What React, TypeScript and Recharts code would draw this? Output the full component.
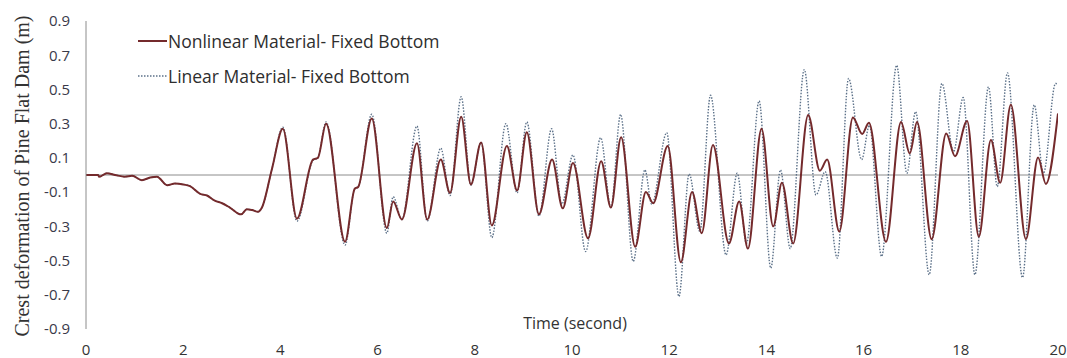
import React from "react";
import { LineChart, Line, XAxis, YAxis, ReferenceLine } from "recharts";

// time (s) and crest deformation (m), nonlinear material
const nlTime = [
  0, 0.25, 0.27, 0.43, 0.6, 0.8, 0.95, 1.15, 1.32, 1.46, 1.67, 1.83, 2.0, 2.14,
  2.35, 2.49, 2.65, 2.8, 2.96, 3.19, 3.31, 3.42, 3.54, 3.62, 3.83, 4.05, 4.34,
  4.67, 4.77, 4.94, 5.33, 5.53, 5.6, 5.88, 6.19, 6.32, 6.5, 6.81, 7.02, 7.3,
  7.49, 7.72, 7.92, 8.13, 8.35, 8.66, 8.87, 9.07, 9.32, 9.59, 9.81, 10.02,
  10.33, 10.6, 10.8, 11.01, 11.3, 11.52, 11.67, 11.97, 12.24, 12.47, 12.67,
  12.9, 13.23, 13.44, 13.62, 13.9, 14.14, 14.32, 14.55, 14.86, 15.1, 15.25,
  15.5, 15.78, 15.97, 16.11, 16.46, 16.77, 16.95, 17.1, 17.4, 17.7, 17.88,
  18.13, 18.37, 18.62, 18.81, 19.03, 19.34, 19.59, 19.75, 20.0,
];
const nlValue = [
  0, 0, -0.01, 0.01, 0.0, -0.01, -0.005, -0.03, -0.015, -0.01, -0.06, -0.05,
  -0.055, -0.065, -0.11, -0.12, -0.15, -0.165, -0.19, -0.23, -0.2, -0.205,
  -0.215, -0.19, 0.04, 0.27, -0.255, 0.09, 0.1, 0.3, -0.39, -0.08, -0.07, 0.33,
  -0.31, -0.155, -0.26, 0.185, -0.26, 0.09, -0.105, 0.34, -0.055, 0.19, -0.295,
  0.17, -0.09, 0.25, -0.23, 0.09, -0.195, 0.07, -0.37, 0.08, -0.19, 0.22,
  -0.42, -0.1, -0.165, 0.17, -0.51, -0.1, -0.34, 0.175, -0.4, -0.155, -0.43,
  0.27, -0.3, -0.045, -0.4, 0.35, 0.025, 0.09, -0.33, 0.336, 0.24, 0.305,
  -0.39, 0.31, 0.126, 0.31, -0.375, 0.243, 0.11, 0.315, -0.36, 0.204, -0.045,
  0.41, -0.375, 0.103, -0.052, 0.36,
];

// time (s) and crest deformation (m), linear material
const linTime = [
  0, 0.25, 0.27, 0.43, 0.6, 0.8, 0.95, 1.15, 1.32, 1.46, 1.67, 1.83, 2.0, 2.14,
  2.35, 2.49, 2.65, 2.8, 2.96, 3.19, 3.31, 3.42, 3.54, 3.62, 3.83, 4.05, 4.34,
  4.67, 4.77, 4.94, 5.33, 5.53, 5.6, 5.88, 6.19, 6.32, 6.5, 6.81, 7.02, 7.3,
  7.49, 7.72, 7.92, 8.13, 8.35, 8.64, 8.87, 9.07, 9.32, 9.58, 9.79, 10.02,
  10.28, 10.59, 10.8, 11.0, 11.26, 11.5, 11.64, 11.95, 12.2, 12.41, 12.63,
  12.85, 13.17, 13.4, 13.59, 13.85, 14.09, 14.29, 14.49, 14.78, 15.02, 15.21,
  15.46, 15.69, 15.96, 16.12, 16.37, 16.68, 16.89, 17.07, 17.35, 17.61, 17.85,
  18.05, 18.29, 18.57, 18.75, 18.96, 19.27, 19.51, 19.7, 19.95, 20.0,
];
const linValue = [
  0, 0, -0.01, 0.01, 0.0, -0.01, -0.005, -0.03, -0.015, -0.01, -0.06, -0.05,
  -0.055, -0.065, -0.11, -0.12, -0.15, -0.165, -0.19, -0.23, -0.2, -0.205,
  -0.215, -0.19, 0.04, 0.28, -0.27, 0.085, 0.1, 0.31, -0.41, -0.08, -0.07,
  0.355, -0.34, -0.127, -0.26, 0.286, -0.27, 0.157, -0.12, 0.457, -0.06, 0.19,
  -0.366, 0.3, -0.105, 0.31, -0.24, 0.27, -0.17, 0.117, -0.447, 0.218, -0.19,
  0.354, -0.505, 0.03, -0.17, 0.247, -0.71, 0.006, -0.33, 0.466, -0.467, 0.01,
  -0.4, 0.433, -0.544, 0.03, -0.43, 0.616, -0.117, 0.02, -0.486, 0.564, 0.09,
  0.29, -0.476, 0.641, 0.01, 0.37, -0.583, 0.535, 0.136, 0.453, -0.583, 0.515,
  -0.068, 0.597, -0.6, 0.41, 0.01, 0.535, 0.53,
];

const xTicks = [0, 2, 4, 6, 8, 10, 12, 14, 16, 18, 20];
const yTicks = [-0.9, -0.7, -0.5, -0.3, -0.1, 0.1, 0.3, 0.5, 0.7, 0.9];

const nlData = nlTime.map((t, i) => ({ t, v: nlValue[i] }));
const linData = linTime.map((t, i) => ({ t, v: linValue[i] }));

const SANS = "'Open Sans', 'Noto Sans', sans-serif";
const NL_COLOR = "#742a2c";
const LIN_COLOR = "#5c7189";

const legendItems = [
  { name: "Nonlinear Material- Fixed Bottom", color: NL_COLOR, dash: undefined, width: 2 },
  { name: "Linear Material- Fixed Bottom", color: LIN_COLOR, dash: "1.5 1.5", width: 1.3 },
];

function ChartLegend() {
  return (
    <div
      style={{
        position: "absolute",
        left: 138,
        top: 23,
        fontFamily: SANS,
        fontSize: 17.5,
        color: "#2e2e2e",
      }}
    >
      {legendItems.map((item) => (
        <div
          key={item.name}
          style={{ display: "flex", alignItems: "center", height: 35 }}
        >
          <svg width={30} height={10} style={{ marginRight: 0 }}>
            <line
              x1={0}
              y1={5}
              x2={29}
              y2={5}
              stroke={item.color}
              strokeWidth={item.width}
              strokeDasharray={item.dash}
            />
          </svg>
          <span>{item.name}</span>
        </div>
      ))}
    </div>
  );
}

export default function App() {
  return (
    <div
      style={{
        position: "absolute",
        left: 0,
        top: 0,
        width: 1067,
        height: 358,
        background: "#fff",
      }}
    >
      <LineChart
        width={1067}
        height={358}
        margin={{ top: 21, right: 9, bottom: 0, left: 26 }}
      >
        <XAxis
          type="number"
          dataKey="t"
          domain={[0, 20]}
          ticks={xTicks}
          allowDataOverflow
          axisLine={false}
          tickLine={false}
          tickSize={0}
          tickMargin={15}
          height={29}
          tick={{ fontFamily: SANS, fontSize: 15, fill: "#333" }}
          label={{
            content: () => (
              <text
                x={575}
                y={329}
                textAnchor="middle"
                fontFamily={SANS}
                fontSize={16}
                fill="#333"
              >
                Time (second)
              </text>
            ),
          }}
        />
        <YAxis
          type="number"
          dataKey="v"
          domain={[-0.9, 0.9]}
          ticks={yTicks}
          allowDataOverflow
          width={60}
          stroke="#8c8c8c"
          tickLine={false}
          tickSize={0}
          tickMargin={16}
          tickFormatter={(v: number) => v.toFixed(1)}
          tick={{ fontFamily: SANS, fontSize: 15, fill: "#3a3a4a" }}
          label={{
            content: () => (
              <text
                x={22}
                y={176}
                transform="rotate(-90 22 176)"
                textAnchor="middle"
                dominantBaseline="central"
                fontFamily="'Liberation Serif', 'Times New Roman', serif"
                fontSize={20}
                fill="#333"
              >
                Crest deformation of Pine Flat Dam (m)
              </text>
            ),
          }}
        />
        <ReferenceLine y={0} stroke="#8c8c8c" strokeWidth={1} />
        <Line
          data={linData}
          dataKey="v"
          name="Linear Material- Fixed Bottom"
          type="monotone"
          stroke={LIN_COLOR}
          strokeWidth={1.4}
          strokeDasharray="1.5 1.5"
          dot={false}
          isAnimationActive={false}
        />
        <Line
          data={nlData}
          dataKey="v"
          name="Nonlinear Material- Fixed Bottom"
          type="monotone"
          stroke={NL_COLOR}
          strokeWidth={2}
          dot={false}
          isAnimationActive={false}
        />
      </LineChart>
      <ChartLegend />
    </div>
  );
}
